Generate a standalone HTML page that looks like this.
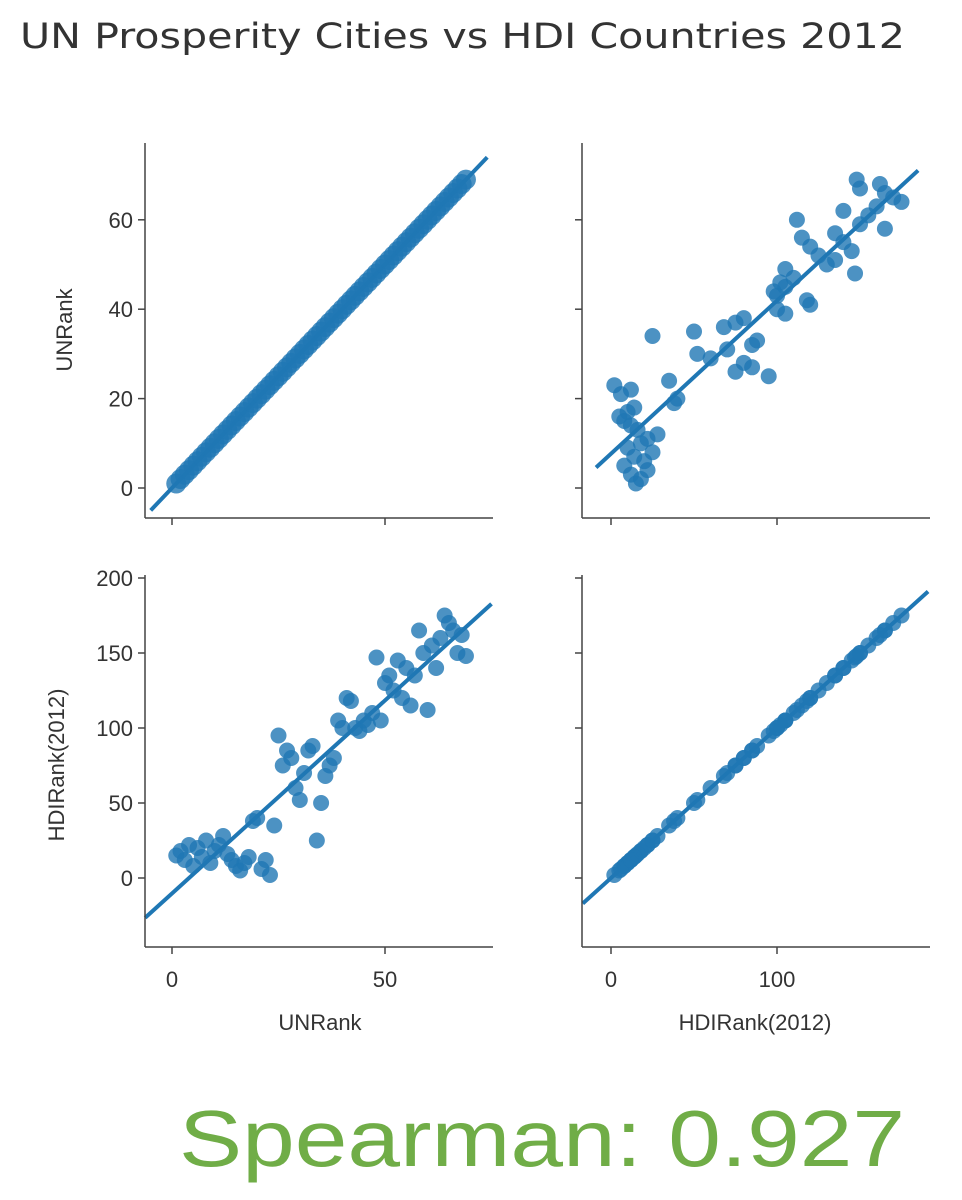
<!DOCTYPE html>
<html><head><meta charset="utf-8"><style>
html,body{margin:0;padding:0;background:#fff;}
svg{display:block;font-family:"Liberation Sans","DejaVu Sans",sans-serif;}
</style></head><body>
<svg id="chart" width="962" height="1200" viewBox="0 0 962 1200" xmlns="http://www.w3.org/2000/svg">
<text x="20" y="48" font-size="35" fill="#333" font-family="DejaVu Sans, sans-serif" textLength="885" lengthAdjust="spacingAndGlyphs">UN Prosperity Cities vs HDI Countries 2012</text>
<g id="plots"></g>
<text transform="translate(72,330) rotate(-90)" text-anchor="middle" font-size="22" fill="#333">UNRank</text>
<text transform="translate(64,765) rotate(-90)" text-anchor="middle" font-size="22" fill="#333">HDIRank(2012)</text>
<text x="320" y="1030" text-anchor="middle" font-size="22" fill="#333">UNRank</text>
<text x="755" y="1030" text-anchor="middle" font-size="22" fill="#333">HDIRank(2012)</text>
<text x="179" y="1166" font-size="80" fill="#70ad47" textLength="726" lengthAdjust="spacingAndGlyphs">Spearman: 0.927</text>
</svg>
<script>
const unRank = [1,2,3,4,5,6,7,8,9,10,11,12,13,14,15,16,17,18,19,20,21,22,23,24,25,26,27,28,29,30,31,32,33,34,35,36,37,38,39,40,41,42,43,44,45,46,47,48,49,50,51,52,53,54,55,56,57,58,59,60,61,62,63,64,65,66,67,68,69];
const hdiRank = [15,18,12,22,8,20,14,25,10,18,22,28,16,12,8,5,10,14,38,40,6,12,2,35,95,75,85,80,60,52,70,85,88,25,50,68,75,80,105,100,120,118,100,98,105,102,110,147,105,130,135,125,145,120,140,115,135,165,150,112,155,140,160,175,170,165,150,162,148];
const unTicks = [0,20,40,60];
const hdiTicks = [0,50,100,150,200];
const unXTicks = [0,50];
const hdiXTicks = [0,100];

const NS = "http://www.w3.org/2000/svg";
const root = document.getElementById('plots');
const BLUE = "#1f77b4";
function mk(tag, attrs, parent){const e=document.createElementNS(NS,tag);for(const k in attrs)e.setAttribute(k,attrs[k]);(parent||root).appendChild(e);return e;}

const xUN = v => 172 + v*4.26;
const xHDI = v => 611 + v*1.66;
const yUNTop = v => 488 - v*4.47;
const yHDIBot = v => 878 - v*1.5;

function fit(xs, ys){const n=xs.length;let mx=0,my=0;for(let i=0;i<n;i++){mx+=xs[i];my+=ys[i];}mx/=n;my/=n;let sxy=0,sxx=0;for(let i=0;i<n;i++){sxy+=(xs[i]-mx)*(ys[i]-my);sxx+=(xs[i]-mx)**2;}const b=sxy/sxx;return [my-b*mx,b];}

function panel(name, L, T, R, B, xs, ys, sx, sy, xr, r, yTicks, yLabels, xTicks, xLabels){
  const g = mk('g', {});
  
  
  const [a,b] = fit(xs, ys);
  const line = mk('line', {x1:sx(xr[0]), y1:sy(a+b*xr[0]), x2:sx(xr[1]), y2:sy(a+b*xr[1]), stroke:BLUE, 'stroke-width':4}, g);
  
  
  for(let i=0;i<xs.length;i++){
    const c = mk('circle', {cx:sx(xs[i]), cy:sy(ys[i]), r:r, fill:BLUE, 'fill-opacity':0.8}, g);
    
    
  }
  mk('line', {x1:L, y1:T, x2:L, y2:B, stroke:'#444', 'stroke-width':1.5}, g);
  mk('line', {x1:L, y1:B, x2:R, y2:B, stroke:'#444', 'stroke-width':1.5}, g);
  yTicks.forEach(t=>{
    mk('line', {x1:L-7, y1:sy(t), x2:L, y2:sy(t), stroke:'#444', 'stroke-width':1.5}, g);
    if(yLabels){const tx=mk('text', {x:L-12, y:sy(t)+8, 'text-anchor':'end', 'font-size':22, fill:'#333'}, g); tx.textContent=t;
      
      }
  });
  xTicks.forEach(t=>{
    mk('line', {x1:sx(t), y1:B, x2:sx(t), y2:B+7, stroke:'#444', 'stroke-width':1.5}, g);
    if(xLabels){const tx=mk('text', {x:sx(t), y:B+40, 'text-anchor':'middle', 'font-size':22, fill:'#333'}, g); tx.textContent=t;
      
      }
  });
}

panel('panel-unrank-vs-unrank', 145, 143, 493, 518, unRank, unRank, xUN, yUNTop, [-5,74], 10, unTicks, true, unXTicks, false);
panel('panel-unrank-vs-hdirank', 582, 143, 930, 518, hdiRank, unRank, xHDI, yUNTop, [-9,185], 8, unTicks, false, hdiXTicks, false);
panel('panel-hdirank-vs-unrank', 145, 575, 493, 947, unRank, hdiRank, xUN, yHDIBot, [-6.3,75], 8, hdiTicks, true, unXTicks, true);
panel('panel-hdirank-vs-hdirank', 582, 575, 930, 947, hdiRank, hdiRank, xHDI, yHDIBot, [-17,191], 8, hdiTicks, false, hdiXTicks, true);
</script>
</body></html>
